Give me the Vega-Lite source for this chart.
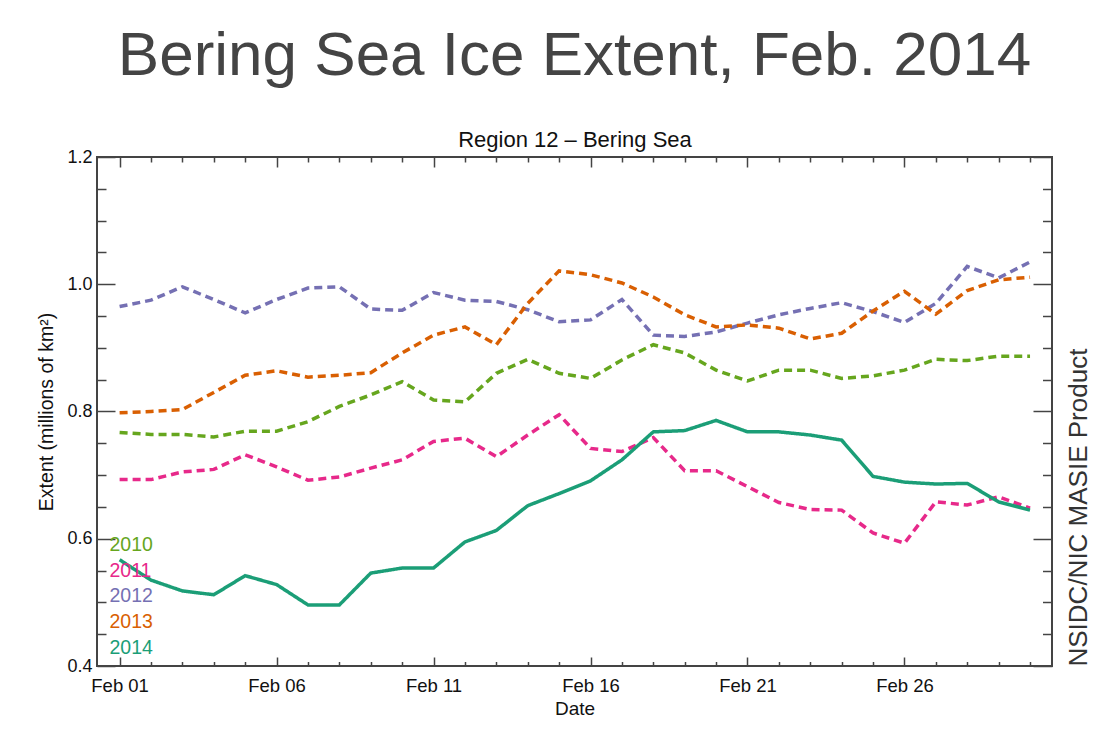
{
  "$schema": "https://vega.github.io/schema/vega-lite/v6.json",
  "width": 955,
  "height": 509,
  "autosize": {"type": "none"},
  "padding": {"left": 97, "top": 157, "right": 68, "bottom": 81},
  "background": "white",
  "config": {
    "font": "Liberation Sans",
    "view": {"stroke": "#444", "strokeWidth": 2},
    "axis": {"domain": false, "grid": false, "tickColor": "#444", "tickWidth": 1.5, "labelColor": "#111", "titleColor": "#111", "titleFontWeight": "normal", "labelFont": "Liberation Sans", "titleFont": "Liberation Sans"}
  },
  "title": {
    "text": "Bering Sea Ice Extent, Feb. 2014",
    "fontSize": 62,
    "font": "Liberation Sans",
    "fontWeight": "normal",
    "color": "#444",
    "anchor": "middle",
    "frame": "group",
    "baseline": "alphabetic",
    "offset": -9
  },
  "data": {
    "values": [
      {"date": "2014-02-01", "2010": 0.767, "2011": 0.693, "2012": 0.965, "2013": 0.798, "2014": 0.567},
      {"date": "2014-02-02", "2010": 0.764, "2011": 0.693, "2012": 0.975, "2013": 0.800, "2014": 0.535},
      {"date": "2014-02-03", "2010": 0.764, "2011": 0.705, "2012": 0.996, "2013": 0.803, "2014": 0.518},
      {"date": "2014-02-04", "2010": 0.760, "2011": 0.709, "2012": 0.976, "2013": 0.830, "2014": 0.512},
      {"date": "2014-02-05", "2010": 0.769, "2011": 0.732, "2012": 0.955, "2013": 0.857, "2014": 0.542},
      {"date": "2014-02-06", "2010": 0.769, "2011": 0.713, "2012": 0.976, "2013": 0.864, "2014": 0.528},
      {"date": "2014-02-07", "2010": 0.784, "2011": 0.692, "2012": 0.994, "2013": 0.854, "2014": 0.496},
      {"date": "2014-02-08", "2010": 0.808, "2011": 0.697, "2012": 0.996, "2013": 0.857, "2014": 0.496},
      {"date": "2014-02-09", "2010": 0.826, "2011": 0.711, "2012": 0.961, "2013": 0.861, "2014": 0.546},
      {"date": "2014-02-10", "2010": 0.847, "2011": 0.724, "2012": 0.959, "2013": 0.892, "2014": 0.554},
      {"date": "2014-02-11", "2010": 0.818, "2011": 0.753, "2012": 0.987, "2013": 0.920, "2014": 0.554},
      {"date": "2014-02-12", "2010": 0.815, "2011": 0.758, "2012": 0.975, "2013": 0.933, "2014": 0.595},
      {"date": "2014-02-13", "2010": 0.860, "2011": 0.729, "2012": 0.973, "2013": 0.905, "2014": 0.613},
      {"date": "2014-02-14", "2010": 0.882, "2011": 0.763, "2012": 0.960, "2013": 0.970, "2014": 0.652},
      {"date": "2014-02-15", "2010": 0.860, "2011": 0.795, "2012": 0.941, "2013": 1.021, "2014": 0.671},
      {"date": "2014-02-16", "2010": 0.852, "2011": 0.742, "2012": 0.944, "2013": 1.015, "2014": 0.691},
      {"date": "2014-02-17", "2010": 0.881, "2011": 0.737, "2012": 0.976, "2013": 1.002, "2014": 0.724},
      {"date": "2014-02-18", "2010": 0.905, "2011": 0.759, "2012": 0.920, "2013": 0.980, "2014": 0.768},
      {"date": "2014-02-19", "2010": 0.892, "2011": 0.707, "2012": 0.918, "2013": 0.952, "2014": 0.770},
      {"date": "2014-02-20", "2010": 0.865, "2011": 0.707, "2012": 0.925, "2013": 0.933, "2014": 0.786},
      {"date": "2014-02-21", "2010": 0.848, "2011": 0.682, "2012": 0.939, "2013": 0.936, "2014": 0.768},
      {"date": "2014-02-22", "2010": 0.865, "2011": 0.657, "2012": 0.952, "2013": 0.931, "2014": 0.768},
      {"date": "2014-02-23", "2010": 0.865, "2011": 0.646, "2012": 0.962, "2013": 0.914, "2014": 0.763},
      {"date": "2014-02-24", "2010": 0.852, "2011": 0.645, "2012": 0.971, "2013": 0.923, "2014": 0.755},
      {"date": "2014-02-25", "2010": 0.856, "2011": 0.609, "2012": 0.957, "2013": 0.958, "2014": 0.698},
      {"date": "2014-02-26", "2010": 0.865, "2011": 0.593, "2012": 0.940, "2013": 0.989, "2014": 0.689},
      {"date": "2014-02-27", "2010": 0.882, "2011": 0.658, "2012": 0.970, "2013": 0.953, "2014": 0.686},
      {"date": "2014-02-28", "2010": 0.880, "2011": 0.653, "2012": 1.028, "2013": 0.990, "2014": 0.687},
      {"date": "2014-03-01", "2010": 0.887, "2011": 0.666, "2012": 1.010, "2013": 1.007, "2014": 0.658},
      {"date": "2014-03-02", "2010": 0.887, "2011": 0.648, "2012": 1.035, "2013": 1.011, "2014": 0.645}
    ]
  },
  "transform": [
    {"fold": ["2010", "2011", "2012", "2013", "2014"], "as": ["year", "extent"]}
  ],
  "layer": [
    {
      "mark": {"type": "line", "strokeWidth": 3.5, "strokeCap": "butt"},
      "encoding": {
        "x": {
          "field": "date",
          "type": "temporal",
          "scale": {
            "type": "utc",
            "domain": [
              {"year": 2014, "month": 1, "date": 31, "hours": 6, "minutes": 43, "utc": true},
              {"year": 2014, "month": 3, "date": 2, "hours": 16, "minutes": 48, "utc": true}
            ]
          },
          "axis": {
            "orient": "bottom",
            "tickCount": {"interval": "day", "step": 1},
            "tickSize": {"condition": {"test": "utcmonth(datum.value) == 1 && utcdate(datum.value) % 5 == 1", "value": -9}, "value": -4.5},
            "labelExpr": "utcmonth(datum.value) == 1 && utcdate(datum.value) % 5 == 1 ? utcFormat(datum.value, '%b %d') : ''",
            "labelFontSize": 18.5,
            "labelPadding": 19,
            "labelBaseline": "top",
            "labelFlush": false,
            "labelOverlap": false,
            "title": "Date",
            "titleFontSize": 19,
            "titlePadding": 0
          }
        },
        "y": {
          "field": "extent",
          "type": "quantitative",
          "scale": {"domain": [0.4, 1.2], "nice": false, "zero": false},
          "axis": {
            "orient": "left",
            "values": [0.4, 0.45, 0.5, 0.55, 0.6, 0.65, 0.7, 0.75, 0.8, 0.85, 0.9, 0.95, 1.0, 1.05, 1.1, 1.15, 1.2],
            "tickSize": {"condition": {"test": "abs(datum.value * 5 - round(datum.value * 5)) < 0.01", "value": -18}, "value": -9},
            "labelExpr": "abs(datum.value * 5 - round(datum.value * 5)) < 0.01 ? format(datum.value, '.1f') : ''",
            "labelFontSize": 18,
            "labelPadding": 23,
            "labelFlush": false,
            "labelOverlap": false,
            "title": "Extent (millions of km²)",
            "titleFontSize": 19.5,
            "titlePadding": 10
          }
        },
        "color": {
          "field": "year",
          "type": "nominal",
          "scale": {
            "domain": ["2010", "2011", "2012", "2013", "2014"],
            "range": ["#66a61e", "#e7298a", "#7570b3", "#d95f02", "#1b9e77"]
          },
          "legend": {
            "orient": "none",
            "legendX": -7,
            "legendY": 378,
            "title": null,
            "symbolSize": 0,
            "symbolOpacity": 0,
            "symbolStrokeWidth": 0,
            "labelOffset": 0,
            "labelFontSize": 19.5,
            "labelFont": "Liberation Sans",
            "rowPadding": 4.8,
            "padding": 0,
            "encode": {"labels": {"update": {"fill": {"scale": "color", "field": "value"}}}}
          }
        },
        "strokeDash": {
          "field": "year",
          "type": "nominal",
          "scale": {
            "domain": ["2010", "2011", "2012", "2013", "2014"],
            "range": [[8, 5], [8, 5], [8, 5], [8, 5], [1, 0]]
          },
          "legend": null
        }
      }
    },
    {
      "mark": {"type": "point", "opacity": 0},
      "encoding": {
        "x": {
          "field": "date",
          "type": "temporal",
          "axis": {
            "orient": "top",
            "labels": false,
            "tickCount": {"interval": "day", "step": 1},
            "tickSize": {"condition": {"test": "utcmonth(datum.value) == 1 && utcdate(datum.value) % 5 == 1", "value": -10}, "value": -5},
            "title": "Region 12 – Bering Sea",
            "titleFontSize": 22,
            "titlePadding": 10,
            "titleBaseline": "alphabetic"
          }
        },
        "y": {
          "field": "extent",
          "type": "quantitative",
          "axis": {
            "orient": "right",
            "labels": false,
            "values": [0.4, 0.45, 0.5, 0.55, 0.6, 0.65, 0.7, 0.75, 0.8, 0.85, 0.9, 0.95, 1.0, 1.05, 1.1, 1.15, 1.2],
            "tickSize": {"condition": {"test": "abs(datum.value * 5 - round(datum.value * 5)) < 0.01", "value": -19}, "value": -9.5},
            "title": "NSIDC/NIC MASIE Product",
            "titleFontSize": 26,
            "titleColor": "#333",
            "titleAngle": 270,
            "titleAnchor": "start",
            "titleAlign": "left",
            "titleBaseline": "top",
            "titlePadding": 13
          }
        }
      }
    }
  ],
  "resolve": {"axis": {"x": "independent", "y": "independent"}}
}
